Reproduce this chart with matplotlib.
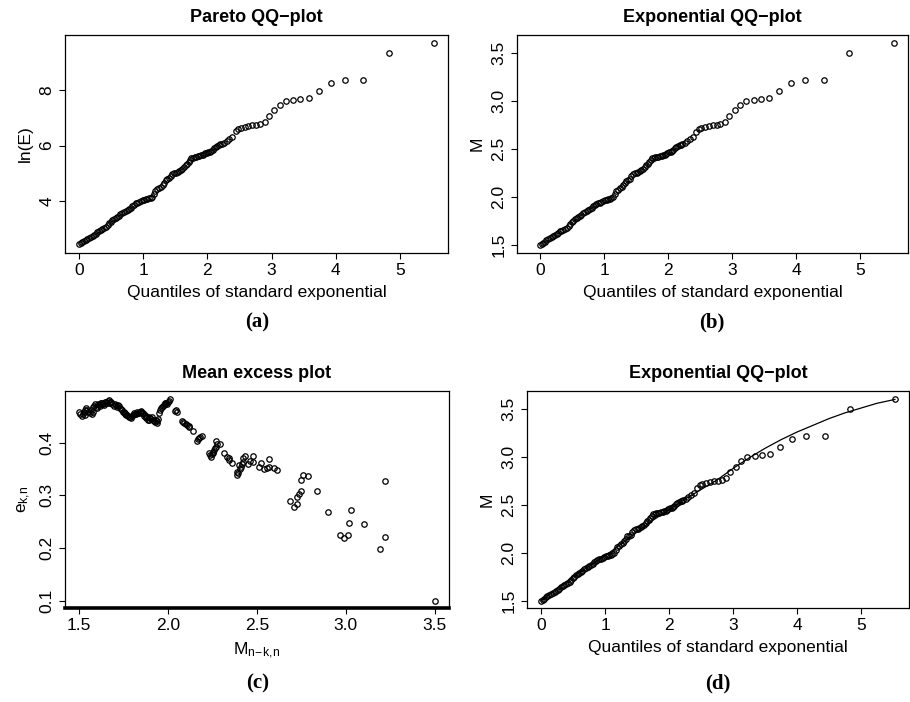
import matplotlib
matplotlib.use("Agg")
import matplotlib.pyplot as plt

plt.rcParams['font.family'] = ['Liberation Sans', 'DejaVu Sans']
plt.rcParams['mathtext.fontset'] = 'custom'
plt.rcParams['mathtext.rm'] = 'Liberation Sans'

# exponential QQ-plot: quantiles of standard exponential vs sorted magnitudes
q_exp = [0.00, 0.025, 0.05, 0.075, 0.10, 0.13, 0.16, 0.185, 0.21, 0.235,
         0.26, 0.285, 0.31, 0.335, 0.36, 0.39, 0.42, 0.445, 0.47, 0.495,
         0.52, 0.545, 0.57, 0.595, 0.62, 0.645, 0.67, 0.70, 0.73, 0.755,
         0.78, 0.805, 0.83, 0.855, 0.88, 0.905, 0.93, 0.96, 0.99, 1.015,
         1.04, 1.065, 1.09, 1.115, 1.14, 1.165, 1.19, 1.22, 1.25, 1.275,
         1.30, 1.325, 1.35, 1.375, 1.40, 1.425, 1.45, 1.48, 1.51, 1.535,
         1.56, 1.585, 1.61, 1.635, 1.66, 1.685, 1.71, 1.73, 1.75, 1.775,
         1.80, 1.825, 1.85, 1.875, 1.90, 1.925, 1.95, 1.97, 1.99, 2.015,
         2.04, 2.06, 2.08, 2.105, 2.13, 2.155, 2.18, 2.20, 2.22, 2.26,
         2.30, 2.34, 2.39, 2.44, 2.48, 2.52, 2.58, 2.64, 2.70, 2.76,
         2.82, 2.89, 2.96, 3.04, 3.13, 3.22, 3.34, 3.45, 3.58, 3.74,
         3.92, 4.14, 4.43, 4.83, 5.53]
mag = [1.50, 1.51, 1.52, 1.535, 1.55, 1.56, 1.57, 1.58, 1.59, 1.60,
       1.61, 1.625, 1.64, 1.65, 1.66, 1.67, 1.68, 1.70, 1.72, 1.735,
       1.75, 1.765, 1.78, 1.79, 1.80, 1.815, 1.83, 1.84, 1.85, 1.86,
       1.87, 1.885, 1.90, 1.915, 1.93, 1.935, 1.94, 1.95, 1.96, 1.965,
       1.97, 1.975, 1.98, 1.99, 2.00, 2.03, 2.06, 2.075, 2.09, 2.105,
       2.12, 2.145, 2.17, 2.18, 2.19, 2.215, 2.24, 2.245, 2.25, 2.26,
       2.27, 2.28, 2.29, 2.31, 2.33, 2.345, 2.36, 2.38, 2.40, 2.405,
       2.41, 2.415, 2.42, 2.425, 2.43, 2.435, 2.44, 2.45, 2.46, 2.465,
       2.47, 2.48, 2.49, 2.505, 2.52, 2.53, 2.54, 2.545, 2.55, 2.56,
       2.58, 2.60, 2.62, 2.68, 2.71, 2.72, 2.73, 2.74, 2.75, 2.75,
       2.76, 2.78, 2.84, 2.90, 2.96, 3.00, 3.01, 3.02, 3.03, 3.10,
       3.19, 3.22, 3.22, 3.50, 3.60]
# energy from magnitude (log10 E = 1.5 M + c)
ln_energy = [3.454 * m - 2.75 for m in mag]

# fitted curve in panel (d)
fit_q = [0.0, 0.25, 0.5, 0.75, 1.0, 1.25, 1.5, 1.75, 2.0, 2.25, 2.5, 2.75,
         3.0, 3.25, 3.5, 3.75, 4.0, 4.25, 4.5, 4.75, 5.0, 5.25, 5.53]
fit_m = [1.50, 1.63, 1.75, 1.86, 1.97, 2.09, 2.22, 2.34, 2.45, 2.56, 2.66, 2.76,
         2.88, 2.99, 3.09, 3.18, 3.26, 3.33, 3.40, 3.46, 3.51, 3.56, 3.60]

# mean excess plot
me_thr = [1.50, 1.513, 1.52, 1.53, 1.54, 1.55, 1.56, 1.57, 1.58, 1.59,
          1.60, 1.61, 1.62, 1.63, 1.64, 1.645, 1.66, 1.67, 1.68, 1.695,
          1.70, 1.72, 1.73, 1.74, 1.75, 1.76, 1.77, 1.78, 1.79, 1.795,
          1.81, 1.82, 1.83, 1.84, 1.85, 1.86, 1.87, 1.88, 1.89, 1.90,
          1.91, 1.92, 1.93, 1.94, 1.945, 1.95, 1.955, 1.96, 1.97, 1.98,
          1.99, 2.00, 2.01, 2.04, 2.05, 2.08, 2.09, 2.10, 2.12, 2.14,
          2.165, 2.175, 2.19, 2.23, 2.24, 2.25, 2.26, 2.27, 2.27, 2.29,
          2.315, 2.33, 2.34, 2.36, 2.39, 2.39, 2.40, 2.41, 2.42, 2.42,
          2.43, 2.45, 2.46, 2.48, 2.48, 2.51, 2.52, 2.54, 2.555, 2.565,
          2.565, 2.595, 2.615, 2.687, 2.71, 2.725, 2.725, 2.735, 2.747, 2.745,
          2.76, 2.785, 2.835, 2.90, 2.965, 2.99, 3.01, 3.017, 3.03, 3.10,
          3.19, 3.22, 3.22, 3.50,
          1.505, 1.525, 1.535, 1.545, 1.565, 1.575, 1.585, 1.595, 1.605, 1.615,
          1.625, 1.635, 1.65, 1.655, 1.665, 1.675, 1.685, 1.705, 1.715, 1.725,
          1.735, 1.745, 1.755, 1.765, 1.775, 1.785, 1.80, 1.815, 1.825, 1.835,
          1.845, 1.855, 1.865, 1.875, 1.885, 1.895, 1.905, 1.915, 1.925, 1.935,
          1.965, 1.975, 1.985, 1.995, 2.005, 2.045, 2.085, 2.105, 2.115, 2.17,
          2.18, 2.235, 2.245, 2.255, 2.265, 2.275, 2.395, 2.405, 2.415, 2.345]
me_val = [0.459, 0.451, 0.455, 0.462, 0.465, 0.459, 0.457, 0.454, 0.468, 0.473,
          0.466, 0.471, 0.475, 0.473, 0.472, 0.477, 0.479, 0.476, 0.478, 0.470,
          0.474, 0.472, 0.466, 0.462, 0.458, 0.456, 0.452, 0.449, 0.447, 0.451,
          0.456, 0.454, 0.457, 0.458, 0.460, 0.456, 0.453, 0.448, 0.443, 0.446,
          0.449, 0.441, 0.443, 0.437, 0.445, 0.456, 0.462, 0.465, 0.470, 0.473,
          0.475, 0.478, 0.482, 0.460, 0.458, 0.441, 0.438, 0.435, 0.429, 0.423,
          0.404, 0.408, 0.413, 0.380, 0.373, 0.380, 0.386, 0.392, 0.404, 0.397,
          0.380, 0.373, 0.370, 0.362, 0.339, 0.345, 0.358, 0.354, 0.364, 0.370,
          0.374, 0.359, 0.366, 0.364, 0.375, 0.354, 0.362, 0.349, 0.351, 0.354,
          0.368, 0.351, 0.348, 0.289, 0.277, 0.284, 0.297, 0.303, 0.309, 0.329,
          0.338, 0.337, 0.309, 0.268, 0.225, 0.218, 0.224, 0.248, 0.273, 0.246,
          0.198, 0.220, 0.327, 0.100,
          0.455, 0.458, 0.452, 0.461, 0.462, 0.458, 0.470, 0.468, 0.474, 0.469,
          0.476, 0.474, 0.478, 0.475, 0.480, 0.477, 0.474, 0.471, 0.468, 0.470,
          0.464, 0.459, 0.455, 0.452, 0.450, 0.448, 0.453, 0.455, 0.459, 0.456,
          0.458, 0.457, 0.450, 0.446, 0.443, 0.448, 0.445, 0.443, 0.440, 0.441,
          0.468, 0.472, 0.476, 0.473, 0.479, 0.462, 0.440, 0.433, 0.431, 0.406,
          0.410, 0.376, 0.378, 0.383, 0.389, 0.398, 0.342, 0.350, 0.360, 0.367]

W, H = 910, 702
fig = plt.figure(figsize=(W / 100, H / 100), dpi=100)

def box(l, t, r, b):
    return [l / W, 1 - b / H, (r - l) / W, (b - t) / H]

ax_a = fig.add_axes(box(65, 35, 448, 253))
ax_b = fig.add_axes(box(517, 35, 908, 253))
ax_c = fig.add_axes(box(65, 391, 449, 608))
ax_d = fig.add_axes(box(527, 391, 909, 608))

pt = dict(marker='o', ls='none', ms=3.9, mfc='none', mec='black', mew=0.9)
fs = 12.5

def style(ax, title, xlabel, ylabel):
    ax.set_title(title, fontsize=13, fontweight='bold', pad=9)
    ax.set_xlabel(xlabel, fontsize=fs, labelpad=5)
    ax.set_ylabel(ylabel, fontsize=fs, labelpad=5)
    ax.tick_params(direction='out', length=4.5, width=0.8, labelsize=fs, pad=3)
    for lab in ax.get_yticklabels():
        lab.set_rotation(90)
        lab.set_va('center')
    for s in ax.spines.values():
        s.set_linewidth(0.9)

ax_a.plot(q_exp, ln_energy, **pt)
ax_a.set_xlim(-0.22, 5.75)
ax_a.set_ylim(2.12, 9.99)
ax_a.set_xticks([0, 1, 2, 3, 4, 5])
ax_a.set_yticks([4, 6, 8])
style(ax_a, 'Pareto QQ\u2212plot', 'Quantiles of standard exponential', 'ln(E)')

ax_b.plot(q_exp, mag, **pt)
ax_b.set_xlim(-0.36, 5.75)
ax_b.set_ylim(1.416, 3.685)
ax_b.set_xticks([0, 1, 2, 3, 4, 5])
ax_b.set_yticks([1.5, 2.0, 2.5, 3.0, 3.5])
ax_b.set_yticklabels(['1.5', '2.0', '2.5', '3.0', '3.5'])
style(ax_b, 'Exponential QQ\u2212plot', 'Quantiles of standard exponential', 'M')

ax_c.plot(me_thr, me_val, **pt)
ax_c.set_xlim(1.42, 3.58)
ax_c.set_ylim(0.086, 0.498)
ax_c.set_xticks([1.5, 2.0, 2.5, 3.0, 3.5])
ax_c.set_xticklabels(['1.5', '2.0', '2.5', '3.0', '3.5'])
ax_c.set_yticks([0.1, 0.2, 0.3, 0.4])
ax_c.set_yticklabels(['0.1', '0.2', '0.3', '0.4'])
style(ax_c, 'Mean excess plot', r'$\mathregular{M_{n\!-\!k,\!n}}$', r'$\mathregular{e_{k,\!n}}$')
ax_c.spines['bottom'].set_linewidth(2.6)

ax_d.plot(q_exp, mag, **pt)
ax_d.plot(fit_q, fit_m, color='black', lw=0.9)
ax_d.set_xlim(-0.22, 5.75)
ax_d.set_ylim(1.424, 3.688)
ax_d.set_xticks([0, 1, 2, 3, 4, 5])
ax_d.set_yticks([1.5, 2.0, 2.5, 3.0, 3.5])
ax_d.set_yticklabels(['1.5', '2.0', '2.5', '3.0', '3.5'])
style(ax_d, 'Exponential QQ\u2212plot', 'Quantiles of standard exponential', 'M')

for x, y, s in [(257, 322, '(a)'), (712, 322, '(b)'), (258, 683, '(c)'), (718, 683, '(d)')]:
    fig.text(x / W, 1 - y / H, s, ha='center', va='center', fontsize=15,
             fontweight='bold', family='Liberation Serif')

fig.savefig('out.png', dpi=100)
